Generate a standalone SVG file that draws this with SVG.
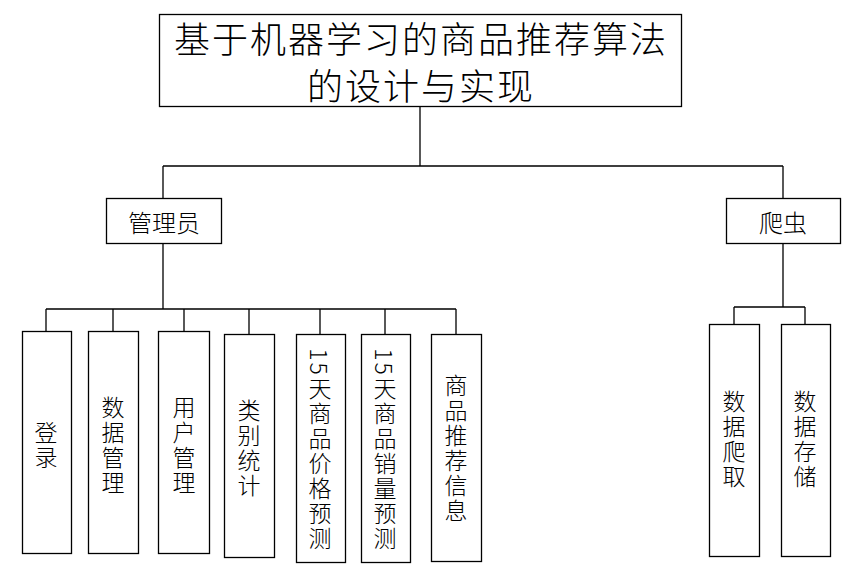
<svg xmlns="http://www.w3.org/2000/svg" width="859" height="567" viewBox="0 0 859 567">
<style>
.box{fill:#fff;stroke:#000;stroke-width:1.3}
.ln{fill:none;stroke:#000;stroke-width:1.3}
text{font-family:"Noto Sans CJK SC","Liberation Serif",serif;fill:#000;font-weight:300}
.t{font-size:36px;text-anchor:middle;dominant-baseline:central;letter-spacing:2px}
.m{font-size:24px;text-anchor:middle;dominant-baseline:central}
.v{font-size:23px;text-anchor:middle;writing-mode:vertical-rl;letter-spacing:2px}
</style>
<rect width="859" height="567" fill="#fff"/>
<g id="connectors">
<path class="ln" d="M420,106V166M163,166H783M163,166V198M783,166V198"/>
<path class="ln" d="M163,244V309M46,309H456M46,309V331M113,309V331M184,309V331M249,309V334M320,309V334M385,309V334M456,309V334"/>
<path class="ln" d="M783,244V307M734,307H805M734,307V324M805,307V324"/>
</g>
<g id="root"><rect class="box" x="159.5" y="14.5" width="522" height="92"/>
<text class="t" x="421" y="37">基于机器学习的商品推荐算法</text>
<text class="t" x="421" y="84">的设计与实现</text></g>
<g id="admin"><rect class="box" x="106.5" y="198.5" width="115" height="45"/><text class="m" x="164" y="221">管理员</text></g>
<g id="spider"><rect class="box" x="726.5" y="198.5" width="114" height="45"/><text class="m" x="783" y="221">爬虫</text></g>
<g id="login"><rect class="box" x="22.5" y="331.5" width="49" height="222"/><text class="v" x="46" y="446">登录</text></g>
<g id="datamgr"><rect class="box" x="88.5" y="331.5" width="50" height="222"/><text class="v" x="113" y="446">数据管理</text></g>
<g id="usermgr"><rect class="box" x="158.5" y="331.5" width="51" height="222"/><text class="v" x="184" y="446">用户管理</text></g>
<g id="stats"><rect class="box" x="224.5" y="334.5" width="50" height="223"/><text class="v" x="249" y="449">类别统计</text></g>
<g id="price"><rect class="box" x="296.5" y="334.5" width="49" height="228"/><text class="v" x="320" y="450">15天商品价格预测</text></g>
<g id="sales"><rect class="box" x="361.5" y="334.5" width="49" height="228"/><text class="v" x="385" y="450">15天商品销量预测</text></g>
<g id="recommend"><rect class="box" x="431.5" y="334.5" width="50" height="227"/><text class="v" x="456" y="449">商品推荐信息</text></g>
<g id="crawl"><rect class="box" x="709.5" y="324.5" width="50" height="232"/><text class="v" x="734" y="440">数据爬取</text></g>
<g id="store"><rect class="box" x="781.5" y="324.5" width="49" height="232"/><text class="v" x="805" y="440">数据存储</text></g>
</svg>
